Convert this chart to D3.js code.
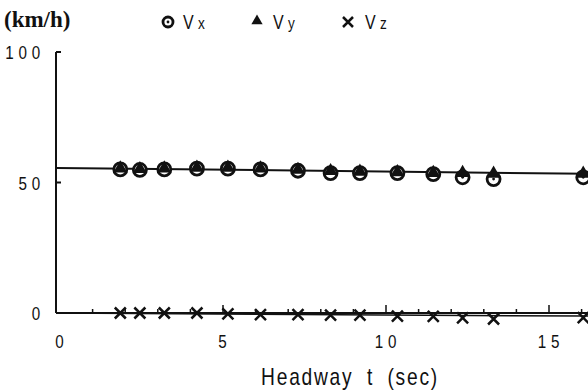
<!DOCTYPE html>
<html>
<head>
<meta charset="utf-8">
<script src="https://cdn.jsdelivr.net/npm/d3@7"></script>
<style>
  html, body { margin: 0; padding: 0; background: #fff; }
  svg { display: block; }
</style>
</head>
<body>
<script>
// Measured speed components against headway
const headway = [1.85, 2.45, 3.2, 4.2, 5.15, 6.15, 7.3, 8.3, 9.2, 10.35, 11.45, 12.35, 13.3, 16.05];
const vx = [55.0, 54.8, 55.0, 55.3, 55.3, 55.0, 54.5, 53.6, 53.6, 53.6, 53.2, 52.0, 51.3, 52.0];
const vy = [55.0, 54.8, 55.0, 55.3, 55.3, 55.0, 54.5, 54.0, 53.8, 53.6, 53.3, 53.3, 53.0, 53.0];
const vz = [0, 0, 0, 0, -0.3, -0.6, -0.6, -0.8, -0.8, -1.2, -1.3, -1.9, -2.3, -1.8];

// Regression lines: [t, v] end points
const fitV = [[-0.1, 55.6], [16.4, 53.3]];
const fitZ = [[-0.1, 0], [16.4, -1.2]];

const xTicks = [0, 5, 10, 15];
const yTicks = [0, 50, 100];
const minorTicks = d3.range(1, 17);

const W = 588, H = 390;
const svg = d3.select("body").append("svg").attr("width", W).attr("height", H);

const x = d3.scaleLinear().domain([0, 15]).range([60, 549]);
const y = d3.scaleLinear().domain([0, 100]).range([313, 52]);

const ink = "#111";
const sans = "'Liberation Sans', Arial, sans-serif";

// Horizontally condensed text, anchored at (px, py)
function narrowText(parent, px, py, str, opts) {
  const o = Object.assign({ size: 18, squeeze: 0.8, anchor: "start", spacing: 0 }, opts);
  const g = parent.append("g").attr("transform", `translate(${px},${py}) scale(${o.squeeze},1)`);
  return g.append("text").attr("x", 0).attr("y", 0)
    .attr("text-anchor", o.anchor)
    .attr("font-family", sans).attr("font-size", o.size)
    .attr("letter-spacing", o.spacing)
    .attr("fill", ink).text(str);
}

// Axes
const x0 = 56;
svg.append("line").attr("x1", x0).attr("x2", x0).attr("y1", y(100)).attr("y2", y(0))
  .attr("stroke", ink).attr("stroke-width", 2);
svg.append("line").attr("x1", x0).attr("x2", W).attr("y1", y(0)).attr("y2", y(0))
  .attr("stroke", ink).attr("stroke-width", 2);

// y ticks point inward
svg.selectAll(".ytick").data(yTicks.filter(d => d > 0)).enter().append("line")
  .attr("x1", x0).attr("x2", x0 + 5).attr("y1", d => y(d)).attr("y2", d => y(d))
  .attr("stroke", ink).attr("stroke-width", 2);

// x ticks point upward, longer every 5 s
svg.selectAll(".xtick").data(minorTicks).enter().append("line")
  .attr("x1", d => x(d)).attr("x2", d => x(d))
  .attr("y1", y(0)).attr("y2", d => y(0) - (d % 5 === 0 ? 8 : 4))
  .attr("stroke", ink).attr("stroke-width", 1.5);

// Tick labels
yTicks.forEach(d => narrowText(svg, 45, y(d) + 7, String(d),
  { size: 19, anchor: "end", spacing: 6 }));
xTicks.forEach(d => narrowText(svg, x(d) + 2, 348, String(d),
  { size: 19, anchor: "middle", spacing: 6 }));

// Axis titles
svg.append("text").attr("x", 4).attr("y", 27)
  .attr("font-family", "'Liberation Serif', 'DejaVu Serif', serif")
  .attr("font-weight", "bold").attr("font-size", 23)
  .attr("fill", ink).text("(km/h)");

narrowText(svg, 350, 385, "Headway t (sec)",
  { size: 24, anchor: "middle", squeeze: 0.8, spacing: 2.2 }).attr("word-spacing", 8);

// Fit lines
const line = d3.line().x(d => x(d[0])).y(d => y(d[1]));
svg.append("path").attr("d", line(fitV)).attr("fill", "none")
  .attr("stroke", ink).attr("stroke-width", 2);
svg.append("path").attr("d", line(fitZ)).attr("fill", "none")
  .attr("stroke", ink).attr("stroke-width", 1.5);

// Marker drawers
function circleMark(g, cx, cy, r) {
  g.append("circle").attr("cx", cx).attr("cy", cy).attr("r", r)
    .attr("fill", "#fff").attr("stroke", ink).attr("stroke-width", 2.8);
  g.append("circle").attr("cx", cx).attr("cy", cy).attr("r", 1.4).attr("fill", ink);
}
const tri = d3.symbol().type(d3.symbolTriangle);
function triMark(g, cx, cy, size) {
  g.append("path").attr("d", tri.size(size)()).attr("transform", `translate(${cx},${cy})`)
    .attr("fill", ink);
}
function crossMark(g, cx, cy, s) {
  g.append("path")
    .attr("d", `M${cx - s},${cy - s}L${cx + s},${cy + s}M${cx - s},${cy + s}L${cx + s},${cy - s}`)
    .attr("stroke", ink).attr("stroke-width", 2.5).attr("fill", "none");
}

const marks = svg.append("g");
headway.forEach((t, i) => {
  circleMark(marks, x(t), y(vx[i]), 6.5);
  triMark(marks, x(t), y(vy[i]) - 1, 85);
  crossMark(marks, x(t), y(vz[i]), 5.5);
});

// Legend
const lg = svg.append("g");
circleMark(lg, 168, 22, 5);
triMark(lg, 257, 21, 55);
crossMark(lg, 348, 22, 5);
[["V", "x", 183], ["V", "y", 273], ["V", "z", 365]].forEach(([a, b, lx]) => {
  narrowText(lg, lx, 29, a, { size: 20 });
  narrowText(lg, lx + 15, 29, b, { size: 17 });
});
</script>
</body>
</html>
